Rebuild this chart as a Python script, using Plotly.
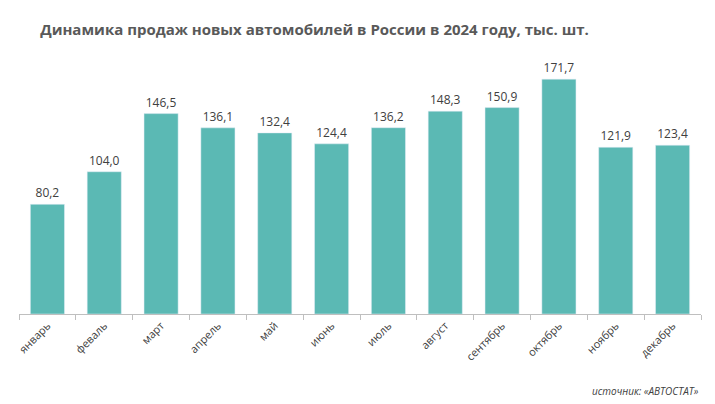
import plotly.graph_objects as go

months = ["январь","феваль","март","апрель","май","июнь","июль","август","сентябрь","октябрь","ноябрь","декабрь"]
sales = [80.2,104.0,146.5,136.1,132.4,124.4,136.2,148.3,150.9,171.7,121.9,123.4]
labels = [f"{v:.1f}".replace(".", ",") for v in sales]

fig = go.Figure(go.Bar(
    x=months, y=sales, text=labels, textposition="outside",
    textfont=dict(size=12, color="#404040"), marker_color="#5BB9B4", width=0.6,
    cliponaxis=False))
fig.update_layout(
    width=715, height=404, paper_bgcolor="white", plot_bgcolor="white",
    margin=dict(l=8, r=22, t=42, b=98),
    font=dict(family="Open Sans, DejaVu Sans", color="#404040"),
    title=dict(text="<b>Динамика продаж новых автомобилей в России в 2024 году, тыс. шт.</b>",
               x=0.045, xanchor="left", y=0.945, yanchor="middle",
               font=dict(size=15, color="#595959")),
    showlegend=False,
    xaxis=dict(tickangle=-45, tickfont=dict(size=11, color="#404040"),
               showline=True, linecolor="#BFBFBF", ticks="outside", tickcolor="#BFBFBF",
               ticklen=5, tickson="boundaries"),
    yaxis=dict(range=[0, 193], visible=False),
    annotations=[dict(text="<i>источник: «АВТОСТАТ»</i>", x=1.0, y=-0.29,
                      xref="paper", yref="paper", yanchor="middle",
                      showarrow=False, xanchor="right", font=dict(size=10, color="#404040"))]
)
fig.write_html("out.html")
